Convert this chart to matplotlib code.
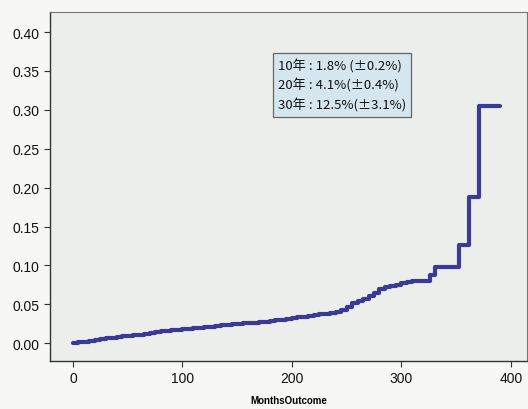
import matplotlib
matplotlib.use("Agg")
import matplotlib.pyplot as plt

months = [0, 5, 10, 15, 20, 25, 30, 35, 40, 45, 50, 55, 60, 65, 70, 75, 80, 85,
          90, 95, 100, 105, 110, 115, 120, 125, 130, 135, 140, 145, 150, 155,
          160, 165, 170, 175, 180, 185, 190, 195, 200, 205, 210, 215, 220, 225,
          230, 235, 240, 245, 250, 255, 260, 265, 270, 275, 280, 285, 290, 295,
          300, 305, 310, 326, 331, 353, 362, 371, 390]
cum_hazard = [0.000, 0.001, 0.002, 0.003, 0.004, 0.005, 0.006, 0.007, 0.008,
              0.0088, 0.0095, 0.0103, 0.011, 0.012, 0.013, 0.014, 0.015, 0.0158,
              0.0165, 0.0172, 0.018, 0.0186, 0.019, 0.0197, 0.0205, 0.0212,
              0.022, 0.0228, 0.0235, 0.0243, 0.025, 0.0255, 0.026, 0.0265,
              0.027, 0.0278, 0.0285, 0.0292, 0.030, 0.031, 0.032, 0.033, 0.034,
              0.035, 0.036, 0.037, 0.038, 0.039, 0.040, 0.043, 0.047, 0.051,
              0.054, 0.057, 0.060, 0.064, 0.069, 0.072, 0.073, 0.075, 0.077,
              0.079, 0.080, 0.087, 0.0985, 0.126, 0.188, 0.305, 0.305]
box_lines = ["10年 : 1.8% (±0.2%)", "20年 : 4.1%(±0.4%)", "30年 : 12.5%(±3.1%)"]
xticks = [0, 100, 200, 300, 400]
yticks = [0.00, 0.05, 0.10, 0.15, 0.20, 0.25, 0.30, 0.35, 0.40]

fig = plt.figure(figsize=(5.28, 4.10), dpi=100)
fig.patch.set_facecolor("#f7f8f6")
ax = fig.add_axes([0.0947, 0.117, 0.903, 0.851])
ax.set_facecolor("#eceeec")

ax.step(months, cum_hazard, where="post", color="#3b3a98", lw=3.0,
        solid_joinstyle="round", solid_capstyle="round")

ax.set_xlim(-21, 414.6)
ax.set_ylim(-0.023, 0.4257)
ax.set_xticks(xticks)
ax.set_yticks(yticks)
ax.set_yticklabels([f"{v:.2f}" for v in yticks])
ax.tick_params(direction="out", length=4, width=0.8, colors="#333333",
               labelsize=10, labelcolor="#111111")
for lbl in ax.get_xticklabels() + ax.get_yticklabels():
    lbl.set_family(["Liberation Sans", "DejaVu Sans"])
for s in ["left", "bottom"]:
    ax.spines[s].set_color("#333333")
    ax.spines[s].set_linewidth(1.0)
for s in ["top", "right"]:
    ax.spines[s].set_color("#777777")
    ax.spines[s].set_linewidth(0.8)

ax.set_xlabel("MonthsOutcome", fontsize=7, fontweight="bold",
              family=["Liberation Sans", "DejaVu Sans"], labelpad=7)

ax.text(0.478, 0.868, "\n".join(box_lines), transform=ax.transAxes,
        fontsize=9.5, va="top", ha="left", linespacing=1.5,
        family=["Noto Sans CJK SC", "DejaVu Sans"], color="#111111",
        bbox=dict(boxstyle="square,pad=0.4", facecolor="#d6e6ee",
                  edgecolor="#666666", linewidth=0.9))

fig.savefig("out.png", dpi=100, facecolor=fig.get_facecolor())
